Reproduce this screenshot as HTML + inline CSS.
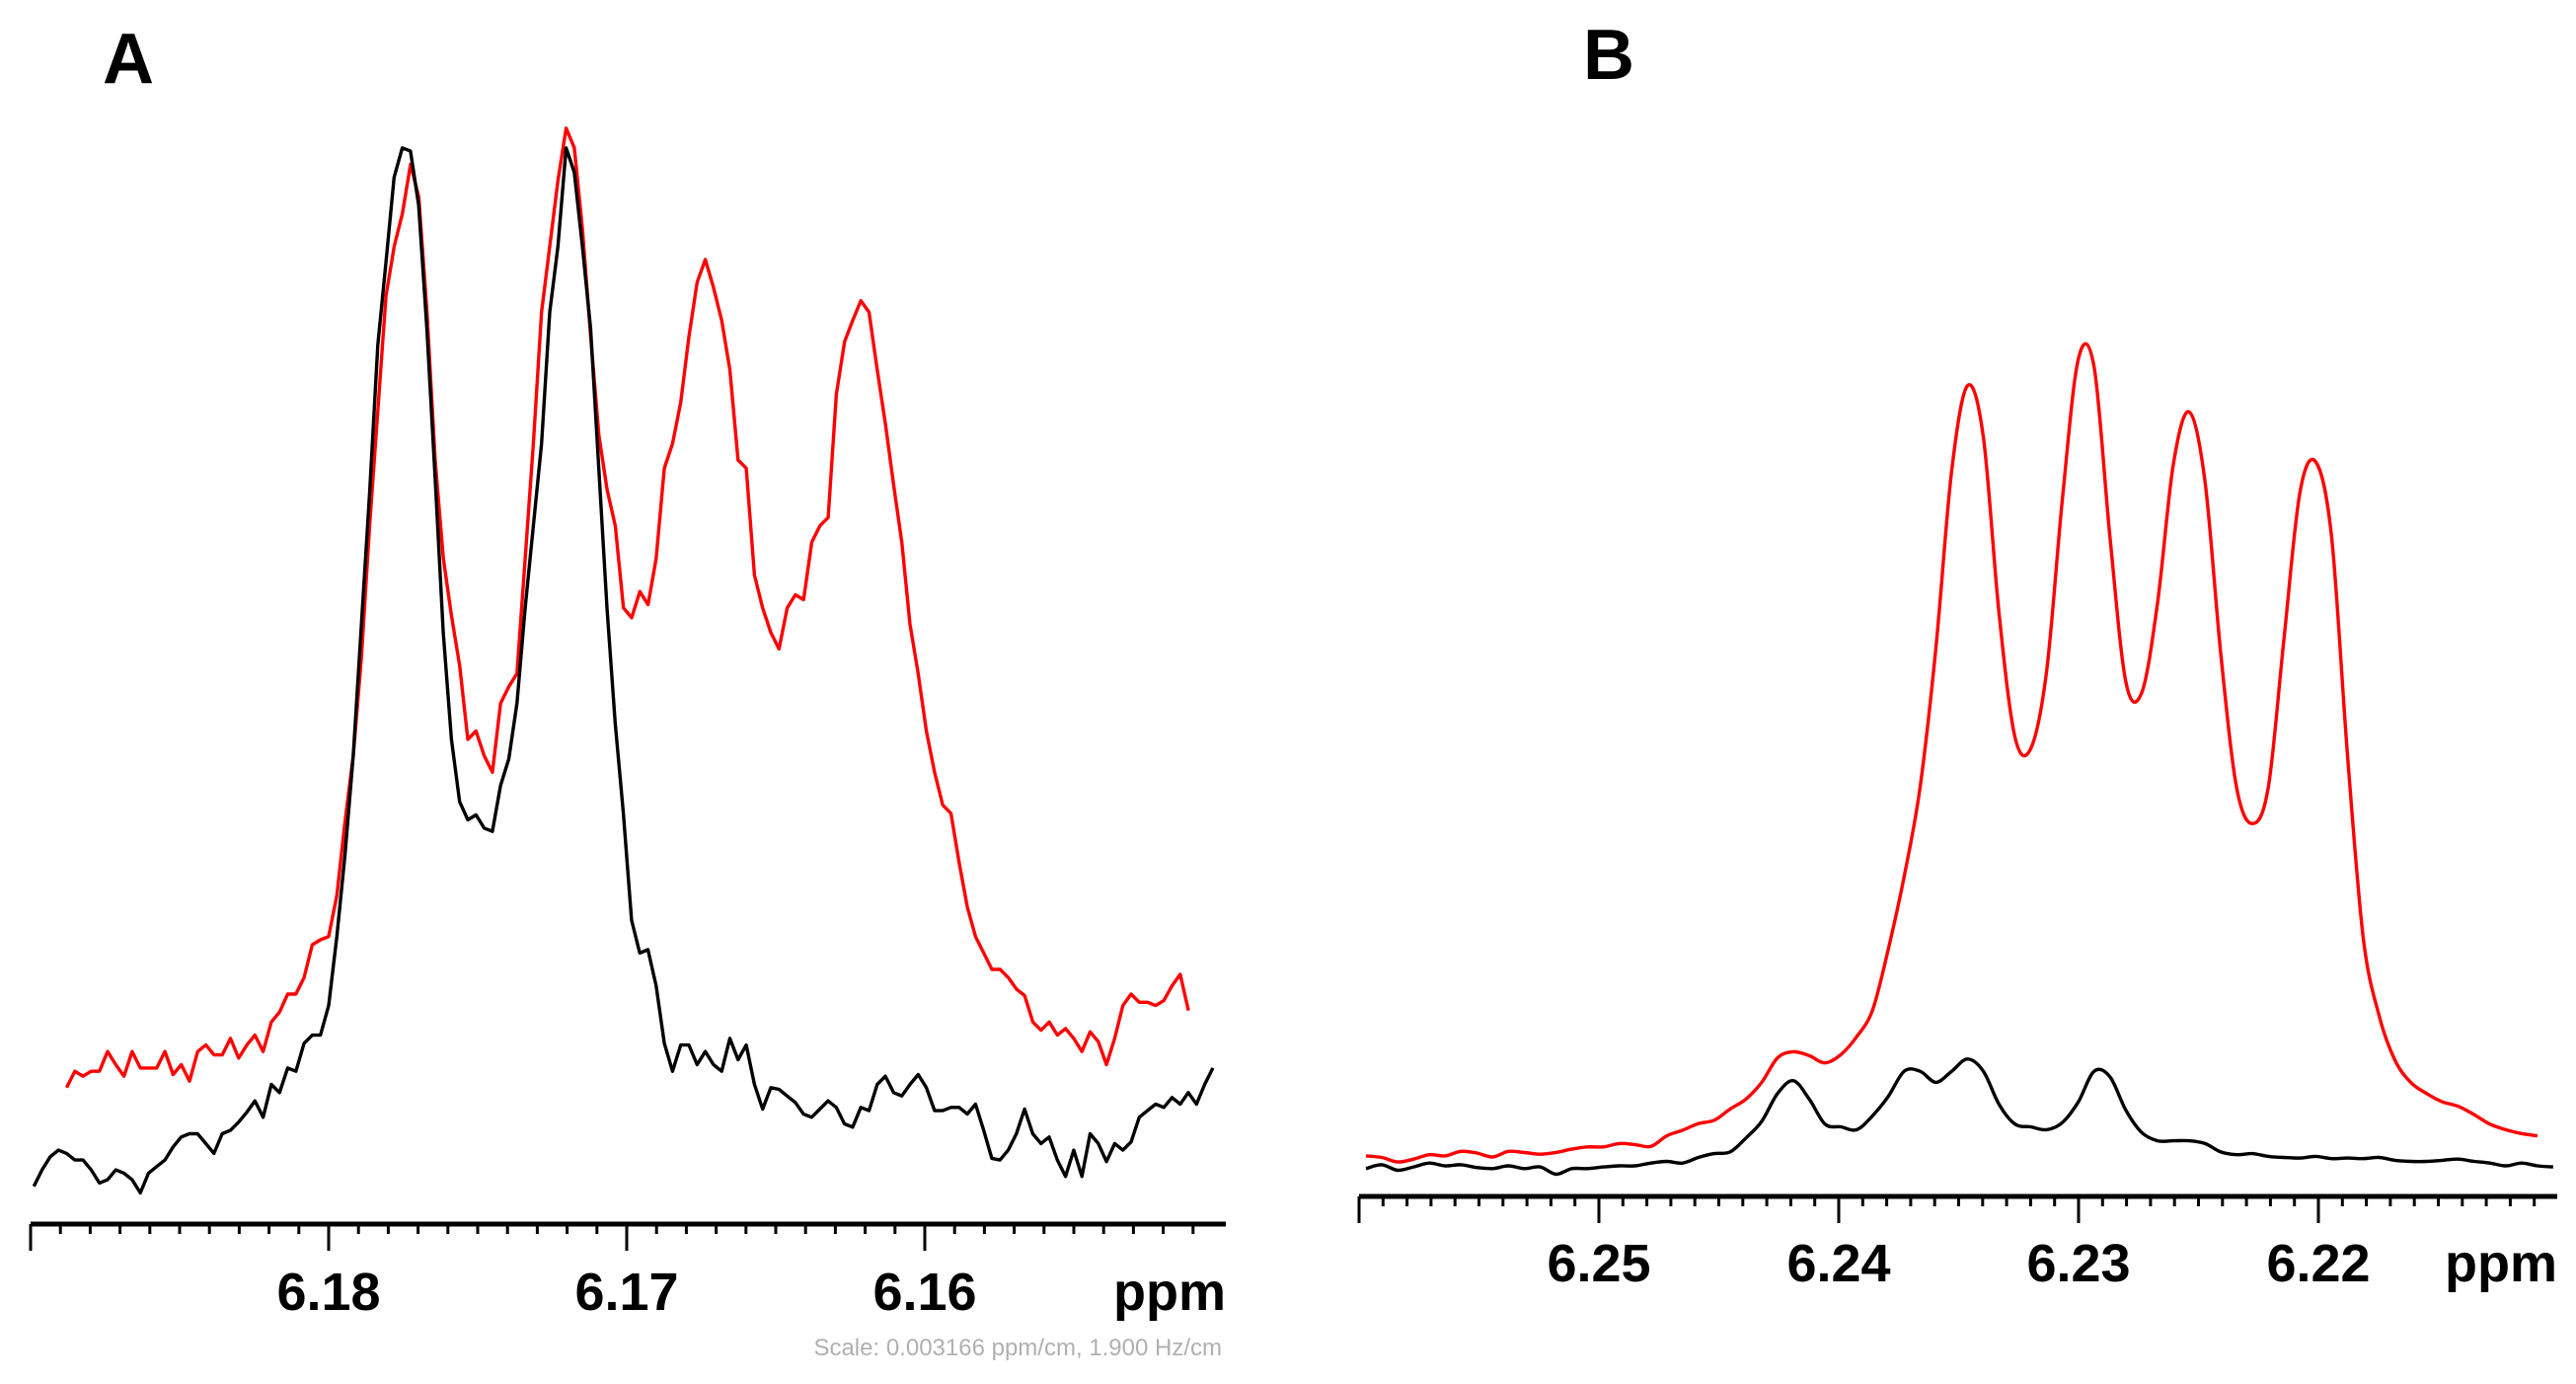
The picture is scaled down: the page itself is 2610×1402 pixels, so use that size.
<!DOCTYPE html>
<html><head><meta charset="utf-8"><style>
html,body{margin:0;padding:0;background:#fff;}
svg{display:block;}
text{font-family:"Liberation Sans",Arial,sans-serif;}
</style></head><body>
<svg id="chart" width="2610" height="1402" viewBox="0 0 2610 1402" xmlns="http://www.w3.org/2000/svg">
<text x="104" y="84" font-size="72" font-weight="bold">A</text>
<text x="1604" y="80" font-size="72" font-weight="bold">B</text>
<g id="panelA"></g>
<g id="panelB"></g>
<text x="1238" y="1373" font-size="24" fill="#b0b0b0" text-anchor="end">Scale: 0.003166 ppm/cm, 1.900 Hz/cm</text>
</svg>
<script>
// ---- Panel A data (uniform ppm grid) ----
const aTicks = [6.18, 6.17, 6.16];
const aTickLabels = ["6.18", "6.17", "6.16"];
const aBlackStart = 6.18989;
const aRedStart = 6.18879;
const aStep = 0.0002747;
const aBlack = [23,33,41,45,43,39,39,33,25,27,
33,31,27,19,31,35,39,47,53,55,
55,49,43,55,57,62,68,75,65,85,
80,95,93,110,115,115,133,175,225,285,
365,445,535,585,637,655,653,620,545,455,
360,295,257,246,249,241,239,267,283,317,
375,425,475,555,595,655,640,595,545,460,
375,305,250,185,165,167,145,110,93,109,
109,97,105,97,93,113,100,109,85,70,
83,82,78,74,67,65,70,75,71,61,
59,71,69,85,90,80,78,85,91,83,
69,69,71,71,67,73,57,40,39,45,
55,70,55,49,53,39,29,45,29,55,
49,38,49,45,50,65,69,73,71,77,
73,80,73,85,95];
const aRed = [83,93,90,93,93,105,97,90,105,95,
95,95,105,91,97,87,105,109,103,103,
113,101,109,115,105,123,129,140,140,150,
170,173,175,200,245,285,345,425,495,565,
595,615,645,625,555,465,405,370,340,295,
300,285,275,317,327,335,405,475,555,595,
635,667,655,605,540,480,447,425,375,369,
385,377,405,460,475,500,540,573,587,570,
550,520,465,460,395,375,360,350,375,383,
380,415,425,430,505,537,550,562,555,520,
487,450,415,365,335,300,275,255,250,220,
193,175,165,155,155,150,143,139,123,118,
123,115,119,113,105,117,111,97,113,133,
140,135,135,133,136,145,152,130];

// ---- Panel B data (uniform ppm grid) ----
const bTicks = [6.25, 6.24, 6.23, 6.22];
const bTickLabels = ["6.25", "6.24", "6.23", "6.22"];
const bStart = 6.25971;
const bStep = 0.00066;
const bRed = [73,70,62,67,75,73,81,78,71,81,
79,76,79,85,89,89,95,93,90,109,
119,131,137,157,175,205,249,260,253,240,
255,287,335,445,575,735,985,1305,1457,1365,
1045,825,805,945,1255,1505,1490,1185,925,905,
1065,1315,1410,1285,975,735,670,735,1005,1265,
1320,1185,795,465,325,245,205,185,170,162,
147,130,120,113,109];
const bBlack = [50,57,47,53,60,55,57,52,50,55,
50,53,40,50,50,53,55,55,60,63,
60,70,77,80,105,135,185,208,175,130,
125,120,145,180,225,225,205,225,247,225,
165,130,125,120,133,170,225,215,155,115,
100,100,100,95,80,75,77,72,70,69,
72,68,69,68,70,65,63,63,65,67,
63,60,55,60,55,53];

const NS = "http://www.w3.org/2000/svg";
function mk(tag, attrs, parent){
  const e = document.createElementNS(NS, tag);
  for (const k in attrs) e.setAttribute(k, attrs[k]);
  parent.appendChild(e);
  return e;
}

const axA = {x: p => 333 + (6.18 - p) * 30200, y: v => 1240 - v * 1.6645, x0: 31, x1: 1242, y0: 1240, minor: 10, major: 27, lo: 6.15, hi: 6.19, labY: 1327};
const axB = {x: p => 1620 + (6.25 - p) * 24300, y: v => 1212 - v / 1.774, x0: 1377, x1: 2591, y0: 1212, minor: 10, major: 27, lo: 6.21, hi: 6.26, labY: 1298};

function drawAxis(g, ax, ticks, labels, name){
  const line = mk("line", {x1: ax.x0, x2: ax.x1, y1: ax.y0, y2: ax.y0, stroke: "#000", "stroke-width": 5}, g);
  
  
  for (let i = 0; i <= Math.round((ax.hi - ax.lo) * 1000); i++){
    const p = ax.hi - i * 0.001;
    const x = ax.x(p);
    if (x > ax.x1 - 5) continue;
    const isMajor = (i % 10 === 0);
    const t = mk("line", {x1: x, x2: x, y1: ax.y0, y2: ax.y0 + (isMajor ? ax.major : ax.minor), stroke: "#000", "stroke-width": 3}, g);
    
    
  }
  ticks.forEach((p, i) => {
    const t = mk("text", {x: ax.x(p), y: ax.labY, "font-size": 54, "font-weight": "bold", "text-anchor": "middle"}, g);
    t.textContent = labels[i];
    
    
  });
  const u = mk("text", {x: ax.x1, y: ax.labY, "font-size": 54, "font-weight": "bold", "text-anchor": "end"}, g);
  u.textContent = "ppm";
  
  
}

function drawSeries(g, ax, start, step, vals, color, name, smooth){
  const pts = vals.map((v, i) => [ax.x(start - i * step), ax.y(v)]);
  let d = "M" + pts[0][0].toFixed(1) + "," + pts[0][1].toFixed(1);
  for (let i = 1; i < pts.length; i++){
    if (smooth){
      const p0 = pts[Math.max(0, i - 2)], p1 = pts[i - 1], p2 = pts[i], p3 = pts[Math.min(pts.length - 1, i + 1)];
      const c1x = p1[0] + (p2[0] - p0[0]) / 6, c1y = p1[1] + (p2[1] - p0[1]) / 6;
      const c2x = p2[0] - (p3[0] - p1[0]) / 6, c2y = p2[1] - (p3[1] - p1[1]) / 6;
      d += "C" + c1x.toFixed(1) + "," + c1y.toFixed(1) + " " + c2x.toFixed(1) + "," + c2y.toFixed(1) + " " + p2[0].toFixed(1) + "," + p2[1].toFixed(1);
    } else {
      d += "L" + pts[i][0].toFixed(1) + "," + pts[i][1].toFixed(1);
    }
  }
  const path = mk("path", {d: d, fill: "none", stroke: color, "stroke-width": 3.4, "stroke-linejoin": "round"}, g);
  
  
}

const gA = document.getElementById("panelA");
const gB = document.getElementById("panelB");
drawAxis(gA, axA, aTicks, aTickLabels, "panel-a");
drawAxis(gB, axB, bTicks, bTickLabels, "panel-b");
drawSeries(gA, axA, aRedStart, aStep, aRed, "#ff0000", "panel-a-red-spectrum", false);
drawSeries(gA, axA, aBlackStart, aStep, aBlack, "#000000", "panel-a-black-spectrum", false);
drawSeries(gB, axB, bStart, bStep, bRed, "#ff0000", "panel-b-red-spectrum", true);
drawSeries(gB, axB, bStart, bStep, bBlack, "#000000", "panel-b-black-spectrum", true);
</script>
</body></html>
